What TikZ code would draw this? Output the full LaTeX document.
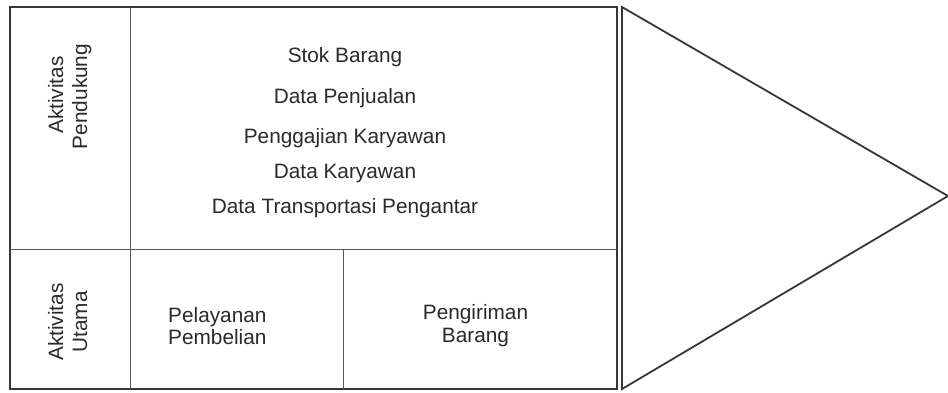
\documentclass[tikz,border=0pt]{standalone}
\usepackage{fontspec}
\setmainfont{Liberation Sans}
\definecolor{linecol}{HTML}{3A3636}
\definecolor{innercol}{HTML}{5A5656}
\definecolor{txt}{HTML}{2B2929}
\begin{document}
\begin{tikzpicture}[x=1pt,y=-1pt,
  outerline/.style={draw=linecol,line width=1.8pt},
  innerline/.style={draw=innercol,line width=1pt},
  lbl/.style={inner sep=0pt,text=txt,font=\fontsize{20.8}{24}\selectfont,anchor=base},
  vlbl/.style={lbl,rotate=90}]
\useasboundingbox (0,0) rectangle (948,392);
% frame of the activity table
\draw[outerline] (10,7) rectangle (617,389);
% margin arrow
\draw[outerline,line join=miter] (622,7) -- (948,196) -- (622,389) -- cycle;
% dividers
\draw[innerline] (130,7) -- (130,389);
\draw[innerline] (10,249) -- (617,249);
\draw[innerline] (343,249) -- (343,389);
% row headings
\node[vlbl] (pend1) at (63,95) {Aktivitas};
\node[vlbl] (pend2) at (87,96.5) {Pendukung};
\node[vlbl] (utm1) at (63,322) {Aktivitas};
\node[vlbl] (utm2) at (87,322) {Utama};
% support activities
\node[lbl] (stok) at (345,62) {Stok Barang};
\node[lbl] (jual) at (345,103) {Data Penjualan};
\node[lbl] (gaji) at (345,143) {Penggajian Karyawan};
\node[lbl] (kary) at (345,178) {Data Karyawan};
\node[lbl] (trans) at (345,213) {Data Transportasi Pengantar};
% primary activities
\node[lbl,anchor=base west] (pel1) at (168,322) {Pelayanan};
\node[lbl,anchor=base west] (pel2) at (168,344) {Pembelian};
\node[lbl] (kir1) at (475.5,319) {Pengiriman};
\node[lbl] (kir2) at (475.5,342) {Barang};
\end{tikzpicture}
\end{document}
